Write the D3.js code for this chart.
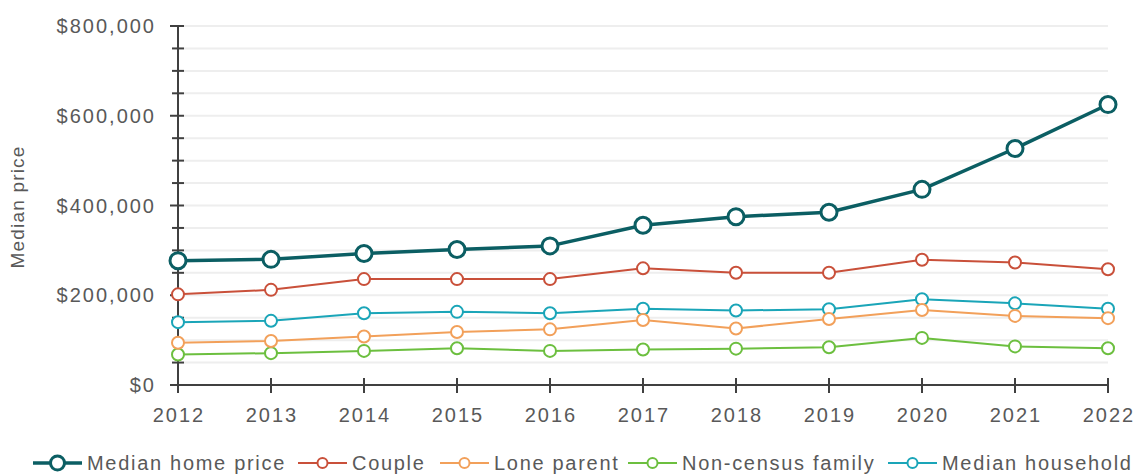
<!DOCTYPE html>
<html>
<head>
<meta charset="utf-8">
<script src="https://cdn.jsdelivr.net/npm/d3@7"></script>
<style>
  body { margin: 0; background: #fff; }
  text { font-family: "Liberation Sans", Arial, sans-serif; fill: #595959; }
</style>
</head>
<body>
<div id="chart"></div>
<script>
// Data
var years = [2012, 2013, 2014, 2015, 2016, 2017, 2018, 2019, 2020, 2021, 2022];
var medianHomePrice = [277000, 280000, 293000, 302000, 310000, 356000, 375000, 385000, 436000, 527000, 625000];
var couple = [202000, 212000, 236000, 236000, 236000, 260000, 250000, 250000, 279000, 273000, 258000];
var loneParent = [94000, 98000, 108000, 118000, 124000, 145000, 126000, 147000, 167000, 154000, 149000];
var nonCensusFamily = [68000, 71000, 76000, 82000, 76000, 79000, 81000, 84000, 105000, 86000, 82000];
var medianHousehold = [140000, 143000, 160000, 163000, 160000, 170000, 166000, 169000, 191000, 182000, 170000];
var yTicks = [0, 200000, 400000, 600000, 800000];

var series = [
    { name: "Median home price", values: medianHomePrice, color: "#0b5e63", width: 3.5, r: 8, sw: 3 },
    { name: "Couple", values: couple, color: "#c9503a", width: 2, r: 6, sw: 2 },
    { name: "Lone parent", values: loneParent, color: "#f2a05a", width: 2, r: 6, sw: 2 },
    { name: "Non-census family", values: nonCensusFamily, color: "#6cbf3f", width: 2, r: 6, sw: 2 },
    { name: "Median household", values: medianHousehold, color: "#1aa5b8", width: 2, r: 6, sw: 2 }
];

var w = 1141, h = 475;
var plotLeft = 178, plotRight = 1108, plotTop = 26, plotBottom = 385;

var svg = d3.select("#chart").append("svg")
    .attr("width", w)
    .attr("height", h);

var x = d3.scaleLinear().domain([2012, 2022]).range([plotLeft, plotRight]);
var y = d3.scaleLinear().domain([0, 800000]).range([plotBottom, plotTop]);

// gridlines every 50,000
var minor = d3.range(50000, 800001, 50000);
svg.append("g").selectAll("line")
    .data(minor)
    .enter().append("line")
    .attr("x1", plotLeft + 6).attr("x2", plotRight)
    .attr("y1", function(d) { return y(d); })
    .attr("y2", function(d) { return y(d); })
    .attr("stroke", "#eeeeee")
    .attr("stroke-width", 2);

// y axis
var yAxis = svg.append("g").attr("transform", "translate(" + plotLeft + ",0)");
yAxis.append("line")
    .attr("x1", 0).attr("x2", 0)
    .attr("y1", y(800000)).attr("y2", y(0))
    .attr("stroke", "#404040").attr("stroke-width", 2);
yAxis.selectAll("line.tick")
    .data(minor)
    .enter().append("line")
    .attr("class", "tick")
    .attr("x1", function(d) { return d % 200000 === 0 ? -8 : -6; })
    .attr("x2", 6)
    .attr("y1", function(d) { return y(d); })
    .attr("y2", function(d) { return y(d); })
    .attr("stroke", "#404040").attr("stroke-width", 2);
yAxis.selectAll("text")
    .data(yTicks)
    .enter().append("text")
    .attr("x", -22)
    .attr("y", function(d) { return y(d); })
    .attr("dy", "0.35em")
    .attr("text-anchor", "end")
    .style("font-size", "20px")
    .style("letter-spacing", "2px")
    .text(function(d) { return "$" + d3.format(",")(d); });

// x axis
var xAxis = svg.append("g").attr("transform", "translate(0," + plotBottom + ")");
xAxis.append("line")
    .attr("x1", plotLeft - 8).attr("x2", plotRight)
    .attr("y1", 0).attr("y2", 0)
    .attr("stroke", "#404040").attr("stroke-width", 2);
xAxis.selectAll("line.tick")
    .data(years)
    .enter().append("line")
    .attr("class", "tick")
    .attr("x1", function(d) { return x(d); })
    .attr("x2", function(d) { return x(d); })
    .attr("y1", -7).attr("y2", 8)
    .attr("stroke", "#404040").attr("stroke-width", 2);
xAxis.selectAll("text")
    .data(years)
    .enter().append("text")
    .attr("x", function(d) { return x(d) + 1; })
    .attr("y", 30)
    .attr("dy", "0.35em")
    .attr("text-anchor", "middle")
    .style("font-size", "20px")
    .style("letter-spacing", "2px")
    .text(function(d) { return d; });

// y axis title
svg.append("text")
    .attr("transform", "translate(24,207) rotate(-90)")
    .attr("text-anchor", "middle")
    .style("font-size", "19px")
    .style("letter-spacing", "1.2px")
    .text("Median price");

// lines and markers (smaller series first, home price on top)
var line = d3.line()
    .x(function(d, i) { return x(years[i]); })
    .y(function(d) { return y(d); });

var drawOrder = series.slice(1).reverse().concat([series[0]]);
drawOrder.forEach(function(s) {
    var g = svg.append("g");
    g.append("path")
        .datum(s.values)
        .attr("d", line)
        .attr("fill", "none")
        .attr("stroke", s.color)
        .attr("stroke-width", s.width)
        .attr("stroke-linejoin", "round");
    g.selectAll("circle")
        .data(s.values)
        .enter().append("circle")
        .attr("cx", function(d, i) { return x(years[i]); })
        .attr("cy", function(d) { return y(d); })
        .attr("r", s.r)
        .attr("fill", "#fff")
        .attr("stroke", s.color)
        .attr("stroke-width", s.sw);
});

// legend
var legendX = [33, 298, 440, 628, 888];
var legend = svg.append("g").attr("transform", "translate(0,463)");
var entries = legend.selectAll("g")
    .data(series)
    .enter().append("g")
    .attr("transform", function(d, i) { return "translate(" + legendX[i] + ",0)"; });
entries.append("line")
    .attr("x1", 0).attr("x2", 49)
    .attr("y1", 0).attr("y2", 0)
    .attr("stroke", function(d) { return d.color; })
    .attr("stroke-width", function(d) { return d.width; });
entries.append("circle")
    .attr("cx", 24.5).attr("cy", 0)
    .attr("r", function(d) { return d.r - 1; })
    .attr("fill", "#fff")
    .attr("stroke", function(d) { return d.color; })
    .attr("stroke-width", function(d) { return d.sw; });
entries.append("text")
    .attr("x", 54)
    .attr("y", 0)
    .attr("dy", "0.35em")
    .style("font-size", "20px")
    .style("letter-spacing", "1.7px")
    .text(function(d) { return d.name; });
</script>
</body>
</html>
